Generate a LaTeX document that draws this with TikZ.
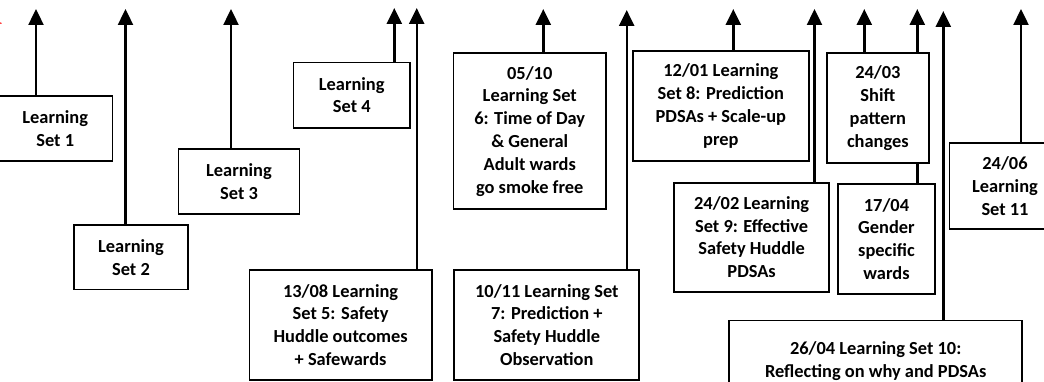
\documentclass[tikz,border=0pt]{standalone}
\usepackage{fontspec}
\setmainfont{Carlito}
\usetikzlibrary{arrows.meta}
\pgfdeclarelayer{paper}
\pgfdeclarelayer{bg}
\pgfsetlayers{paper,bg,main}
\tikzset{
  evbox/.style={draw=black, line width=1.8pt, fill=white, inner sep=0pt,
    align=center, font=\bfseries\fontsize{18.4}{22.8}\selectfont},
  evarrow/.style={line width=2.4pt, -{Triangle[width=15pt,length=16pt]}}
}
\begin{document}
\begin{tikzpicture}[x=1pt, y=-1pt]
\useasboundingbox (0,0) rectangle (1044,382);
\clip (0,0) rectangle (1044,382);
\begin{pgfonlayer}{paper}
\fill[white] (0,0) rectangle (1044,382);
\end{pgfonlayer}

% milestone boxes
\node[evbox, minimum width=114.5pt, minimum height=65pt] (b1) at (55.25,128.5) {Learning\\Set 1};
\node[evbox, minimum width=114pt, minimum height=64.5pt] (b2) at (131,257.25) {Learning\\Set 2};
\node[evbox, minimum width=121pt, minimum height=64.7pt] (b3) at (239,181.65) {Learning\\Set 3};
\node[evbox, minimum width=116.5pt, minimum height=65.2pt] (b4) at (351.75,95.1) {Learning\\Set 4};
\node[evbox, minimum width=182.2pt, minimum height=110pt] (b5) at (340.6,325) {13/08 Learning\\Set 5: Safety\\Huddle outcomes\\+ Safewards};
\node[evbox, minimum width=152.5pt, minimum height=156pt] (b6) at (529.75,131.3) {05/10\\Learning Set\\6: Time of Day\\\& General\\Adult wards\\go smoke free};
\node[evbox, minimum width=185pt, minimum height=110pt] (b7) at (546.8,325) {10/11 Learning Set\\7: Prediction +\\Safety Huddle\\Observation};
\node[evbox, minimum width=176.3pt, minimum height=110pt] (b8) at (720.85,106) {12/01 Learning\\Set 8: Prediction\\PDSAs + Scale-up\\prep};
\node[evbox, minimum width=155.3pt, minimum height=109pt] (b9) at (751.65,237.2) {24/02 Learning\\Set 9: Effective\\Safety Huddle\\PDSAs};
\node[evbox, minimum width=102.3pt, minimum height=110pt] (b10) at (877.85,108.3) {24/03\\Shift\\pattern\\changes};
\node[evbox, minimum width=97pt, minimum height=110pt] (b11) at (886.5,239) {17/04\\Gender\\specific\\wards};
\node[evbox, minimum width=293.3pt, minimum height=81pt] (b12) at (875.65,361) {26/04 Learning Set 10:\\Reflecting on why and PDSAs};
\node[evbox, minimum width=111pt, minimum height=86.6pt] (b13) at (1005,186) {24/06\\Learning\\Set 11};

% arrow tips along the top edge
\coordinate (t1) at (36,9);
\coordinate (t2) at (125.5,9);
\coordinate (t3) at (231,9);
\coordinate (t4) at (394.3,8);
\coordinate (t5) at (416.7,8);
\coordinate (t6) at (543.3,9);
\coordinate (t7) at (626.7,10);
\coordinate (t8) at (733.3,9);
\coordinate (t9) at (814.5,9);
\coordinate (t10) at (864.3,9);
\coordinate (t11) at (917.3,9);
\coordinate (t12) at (943.3,11);
\coordinate (t13) at (1021,9);

% connectors run behind the boxes
\begin{pgfonlayer}{bg}
\draw[evarrow] (b1.north -| t1) -- (t1);
\draw[evarrow] (b2.north -| t2) -- (t2);
\draw[evarrow] (b3.north -| t3) -- (t3);
\draw[evarrow] (b4.north -| t4) -- (t4);
\draw[evarrow] (b5.north -| t5) -- (t5);
\draw[evarrow] (b6.north -| t6) -- (t6);
\draw[evarrow] (b7.north -| t7) -- (t7);
\draw[evarrow] (b8.north -| t8) -- (t8);
\draw[evarrow] (b9.north -| t9) -- (t9);
\draw[evarrow] (b10.north -| t10) -- (t10);
\draw[evarrow] (b11.north -| t11) -- (t11);
\draw[evarrow] (b12.north -| t12) -- (t12);
\draw[evarrow] (b13.north -| t13) -- (t13);
\end{pgfonlayer}

% small red stroke at the left edge
\coordinate (r0) at (-2,22);
\coordinate (r1) at (1.5,23.5);
\draw[red, line width=1pt] (r0) -- (r1);
\end{tikzpicture}
\end{document}
